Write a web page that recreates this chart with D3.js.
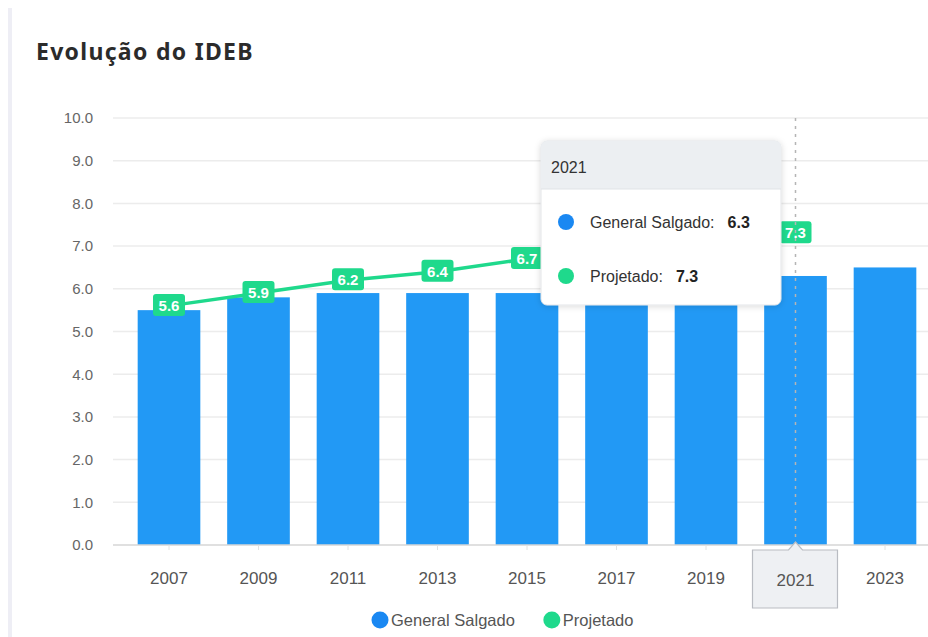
<!DOCTYPE html>
<html>
<head>
<meta charset="utf-8">
<script src="https://cdn.jsdelivr.net/npm/d3@7"></script>
<style>
  html, body { margin: 0; padding: 0; background: #fff; }
  svg { display: block; }
</style>
</head>
<body>
<div id="chart"></div>
<script>
// data
const years = ["2007", "2009", "2011", "2013", "2015", "2017", "2019", "2021", "2023"];
const ideb = [5.5, 5.8, 5.9, 5.9, 5.9, 6.0, 6.1, 6.3, 6.5];
const projetado = [5.6, 5.9, 6.2, 6.4, 6.7, 6.9, 7.1, 7.3];
const yTicks = [0, 1, 2, 3, 4, 5, 6, 7, 8, 9, 10];
const seriesNames = ["General Salgado", "Projetado"];
const hoverIndex = 7;

const config = {
    "bar-color": "#2299f5",
    "dot-blue": "#1a88f2",
    "line-color": "#1fd98c",
    "text-color": "#555",
    "grid-color": "#ececec"
};
const font = "'Liberation Sans', Arial, sans-serif";

const W = 928, H = 637;
const svg = d3.select("#chart").append("svg")
    .attr("width", W)
    .attr("height", H);

const defs = svg.append("defs");
const shadow = defs.append("filter").attr("id", "tipShadow")
    .attr("x", "-10%").attr("y", "-10%").attr("width", "130%").attr("height", "130%");
shadow.append("feDropShadow")
    .attr("dx", 0).attr("dy", 1).attr("stdDeviation", 3)
    .attr("flood-color", "#000").attr("flood-opacity", 0.15);

// card border on the left
svg.append("rect")
    .attr("x", 8).attr("y", 8)
    .attr("width", 4).attr("height", H - 8)
    .attr("fill", "#eeeef5");

// title
svg.append("text")
    .attr("x", 36).attr("y", 60)
    .attr("fill", "#2b2b2b")
    .style("font-family", "'Noto Sans', 'Open Sans', sans-serif")
    .style("font-weight", "bold")
    .style("font-size", "23px")
    .style("letter-spacing", "1.3px")
    .text("Evolução do IDEB");

// scales
const gridLeft = 113, gridRight = 928;
const xScale = d3.scaleBand()
    .domain(years)
    .range([124.25, 929.75])
    .paddingInner(0.3)
    .paddingOuter(0.15);
const yScale = d3.scaleLinear()
    .domain([0, 10])
    .range([545, 118]);
const cx = d => xScale(d) + xScale.bandwidth() / 2;

// grid
const grid = svg.append("g").attr("class", "grid");
grid.selectAll("line")
    .data(yTicks.slice(1))
    .enter()
    .append("line")
    .attr("x1", gridLeft).attr("x2", gridRight)
    .attr("y1", d => yScale(d)).attr("y2", d => yScale(d))
    .attr("stroke", config["grid-color"])
    .attr("stroke-width", 1.5);

// y axis labels
const axisY = d3.axisLeft(yScale)
    .tickValues(yTicks)
    .tickFormat(d3.format(".1f"))
    .tickSize(0)
    .tickPadding(0);
const axis_y = svg.append("g")
    .attr("transform", "translate(93,0)")
    .call(axisY);
axis_y.select(".domain").remove();
axis_y.selectAll("text")
    .attr("fill", "#666")
    .style("font-family", font)
    .style("font-size", "15px");

// bars
svg.append("g").attr("class", "bars")
    .selectAll("rect")
    .data(ideb)
    .enter()
    .append("rect")
    .attr("x", (d, i) => xScale(years[i]))
    .attr("y", d => yScale(d))
    .attr("width", xScale.bandwidth())
    .attr("height", d => yScale(0) - yScale(d))
    .attr("fill", config["bar-color"]);

// x axis
const axisX = d3.axisBottom(xScale).tickSize(5).tickPadding(22);
const axis_x = svg.append("g")
    .attr("transform", `translate(0, ${yScale(0)})`)
    .call(axisX);
axis_x.select(".domain")
    .attr("d", `M${gridLeft},0H${gridRight}`)
    .attr("stroke", "#d6d6d6")
    .attr("stroke-width", 1.5);
axis_x.selectAll(".tick line").attr("stroke", "#e2e2e2");
axis_x.selectAll("text")
    .attr("fill", config["text-color"])
    .style("font-family", font)
    .style("font-size", "17px");
// the hovered year is shown by the axis pointer box instead
axis_x.selectAll(".tick").filter(d => d === years[hoverIndex]).select("text").remove();

// projection line
const lineGen = d3.line()
    .x((d, i) => cx(years[i]))
    .y(d => yScale(d));
svg.append("path")
    .attr("d", lineGen(projetado))
    .attr("fill", "none")
    .attr("stroke", config["line-color"])
    .attr("stroke-width", 3.5);

const labels = svg.append("g").attr("class", "line-labels")
    .selectAll("g")
    .data(projetado)
    .enter()
    .append("g")
    .attr("transform", (d, i) => `translate(${cx(years[i])},${yScale(d)})`);
labels.append("rect")
    .attr("x", -16).attr("y", -12)
    .attr("width", 32).attr("height", 22)
    .attr("rx", 3)
    .attr("fill", config["line-color"]);
labels.append("text")
    .attr("text-anchor", "middle")
    .attr("y", 5)
    .attr("fill", "#fff")
    .style("font-family", font)
    .style("font-weight", "bold")
    .style("font-size", "15px")
    .text(d => d3.format(".1f")(d));

// crosshair
const hx = cx(years[hoverIndex]);
svg.append("line")
    .attr("x1", hx).attr("x2", hx)
    .attr("y1", yScale(10)).attr("y2", yScale(0))
    .attr("stroke", "#b5b5b5")
    .attr("stroke-width", 1.5)
    .attr("stroke-dasharray", "3,5");

// axis pointer label
const ap = svg.append("g").attr("transform", `translate(${hx},${yScale(0)})`);
ap.append("path")
    .attr("d", "M-43,5 H-7 L0,-3 L7,5 H42 V63 H-43 Z")
    .attr("fill", "#eef0f3")
    .attr("stroke", "#b9bcc2")
    .attr("stroke-width", 1.2);
ap.append("text")
    .attr("text-anchor", "middle")
    .attr("y", 41)
    .attr("fill", config["text-color"])
    .style("font-family", font)
    .style("font-size", "17px")
    .text(years[hoverIndex]);

// tooltip
const tip = svg.append("g").attr("transform", "translate(541,141)");
tip.append("rect")
    .attr("width", 240).attr("height", 164)
    .attr("rx", 6)
    .attr("fill", "#fff")
    .attr("stroke", "#e3e5e8")
    .attr("filter", "url(#tipShadow)");
tip.append("path")
    .attr("d", "M0,48 V6 Q0,0 6,0 H234 Q240,0 240,6 V48 Z")
    .attr("fill", "#eceff2");
tip.append("line")
    .attr("x1", 0).attr("x2", 240)
    .attr("y1", 48).attr("y2", 48)
    .attr("stroke", "#e0e3e7");
tip.append("text")
    .attr("x", 10).attr("y", 32)
    .attr("fill", "#333")
    .style("font-family", font)
    .style("font-size", "16px")
    .text(years[hoverIndex]);

const tipRows = [
    {name: seriesNames[0], value: ideb[hoverIndex], color: config["dot-blue"]},
    {name: seriesNames[1], value: projetado[hoverIndex], color: config["line-color"]}
];
const rows = tip.selectAll(".row")
    .data(tipRows)
    .enter()
    .append("g")
    .attr("class", "row")
    .attr("transform", (d, i) => `translate(0,${81 + i * 54})`);
rows.append("circle")
    .attr("cx", 25).attr("r", 8)
    .attr("fill", d => d.color);
rows.append("text")
    .attr("class", "name")
    .attr("x", 49).attr("y", 6)
    .attr("fill", "#333")
    .style("font-family", font)
    .style("font-size", "16px")
    .text(d => d.name + ":");
rows.each(function(d) {
    const g = d3.select(this);
    const w = g.select(".name").node().getComputedTextLength();
    g.append("text")
        .attr("x", 49 + w + 13).attr("y", 6)
        .attr("fill", "#222")
        .style("font-family", font)
        .style("font-weight", "bold")
        .style("font-size", "16px")
        .text(d3.format(".1f")(d.value));
});

// legend
const legend = svg.append("g").attr("transform", "translate(0,620)");
const legendColors = [config["dot-blue"], config["line-color"]];
const legends = legend.selectAll(".legend_item")
    .data(seriesNames)
    .enter()
    .append("g")
    .attr("class", "legend_item");
legends.append("circle")
    .attr("r", 8.5)
    .attr("fill", (d, i) => legendColors[i]);
legends.append("text")
    .attr("x", 11).attr("y", 6)
    .attr("fill", config["text-color"])
    .style("font-family", font)
    .style("font-size", "16.5px")
    .text(d => d);
let offset = 380;
legends.each(function() {
    const g = d3.select(this);
    g.attr("transform", `translate(${offset},0)`);
    offset += 11 + g.select("text").node().getComputedTextLength() + 37;
});
</script>
</body>
</html>
